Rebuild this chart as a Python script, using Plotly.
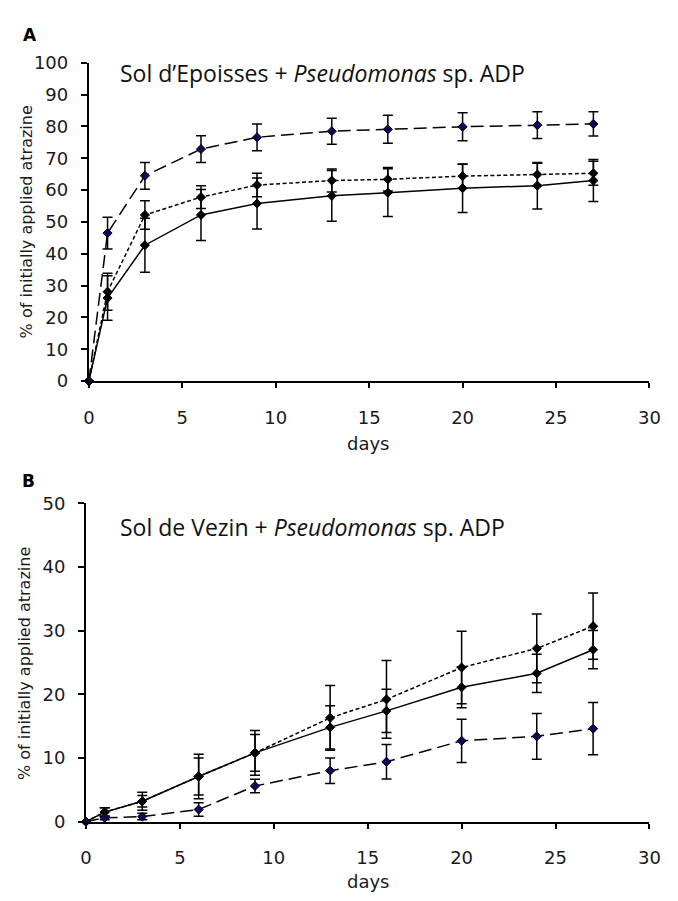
import plotly.graph_objects as go

days = [0, 1, 3, 6, 9, 13, 16, 20, 24, 27]

# Panel A: Sol d'Epoisses
a_dashed = [0, 46.5, 64.5, 72.9, 76.6, 78.5, 79.1, 79.9, 80.4, 80.8]
a_dashed_err = [0, 5.0, 4.2, 4.2, 4.2, 4.1, 4.4, 4.4, 4.2, 3.8]
a_dotted = [0, 28.1, 52.2, 57.8, 61.6, 63.0, 63.4, 64.4, 64.9, 65.3]
a_dotted_err = [0, 5.8, 4.5, 3.6, 3.7, 3.6, 3.7, 3.7, 3.5, 3.8]
a_solid = [0, 26.1, 42.7, 52.2, 55.8, 58.2, 59.2, 60.6, 61.4, 63.0]
a_solid_err = [0, 7.0, 8.5, 8.0, 8.0, 8.0, 7.5, 7.6, 7.3, 6.6]

# Panel B: Sol de Vezin
b_dashed = [0, 0.6, 0.8, 1.9, 5.6, 8.0, 9.4, 12.7, 13.4, 14.6]
b_dashed_err = [0, 0.3, 0.5, 1.05, 1.05, 2.0, 2.7, 3.4, 3.6, 4.1]
b_dotted = [0, 1.5, 3.2, 7.1, 10.8, 16.3, 19.2, 24.2, 27.2, 30.7]
b_dotted_err = [0, 0.7, 1.4, 2.9, 2.9, 5.1, 6.1, 5.7, 5.4, 5.2]
b_solid = [0, 1.5, 3.2, 7.1, 10.8, 14.8, 17.4, 21.1, 23.3, 27.0]
b_solid_err = [0, 0.7, 0.9, 3.5, 3.5, 3.4, 3.4, 3.2, 3.0, 3.0]

title_a = "Sol d\u2019Epoisses + <i>Pseudomonas</i> sp. ADP"
title_b = "Sol de Vezin + <i>Pseudomonas</i> sp. ADP"
y_title = "% of initially applied atrazine"
x_title = "days"

W, H = 678, 901

fig = go.Figure()

styles = [
    ("solid", "black"),
    ("4px,2.5px", "black"),
    ("13px,6px", "#0a0a5a"),
]


def add_series(x, y, err, dash, mcolor, xa, ya):
    fig.add_trace(go.Scatter(
        x=x, y=y, mode="lines+markers",
        line=dict(color="black", width=1.5, dash=dash),
        marker=dict(symbol="diamond", size=7, color=mcolor,
                    line=dict(color="black", width=1)),
        error_y=dict(type="data", array=err, visible=True,
                     color="black", thickness=1.5, width=5),
        cliponaxis=False, showlegend=False, xaxis=xa, yaxis=ya,
    ))


for (ys, es), (dash, mc) in zip(
        [(a_solid, a_solid_err), (a_dotted, a_dotted_err), (a_dashed, a_dashed_err)], styles):
    add_series(days, ys, es, dash, mc, "x", "y")

for (ys, es), (dash, mc) in zip(
        [(b_solid, b_solid_err), (b_dotted, b_dotted_err), (b_dashed, b_dashed_err)], styles):
    add_series(days, ys, es, dash, mc, "x2", "y2")

SANS = "DejaVu Sans, Liberation Sans, Arial, sans-serif"
tickfont = dict(family=SANS, size=18, color="#1a1a1a")
xcommon = dict(range=[0, 30], dtick=5, tick0=0, showgrid=False, zeroline=False,
               showline=True, linecolor="black", linewidth=2,
               ticks="outside", ticklen=5, tickwidth=1.5, tickcolor="black",
               tickfont=tickfont, ticklabelstandoff=14, fixedrange=True)
ycommon = dict(showgrid=False, zeroline=False,
               showline=True, linecolor="black", linewidth=2,
               ticks="outside", ticklen=6, tickwidth=1.5, tickcolor="black",
               tickfont=tickfont, ticklabelstandoff=9, fixedrange=True)

fig.update_layout(
    width=W, height=H,
    margin=dict(l=0, r=0, t=0, b=0),
    paper_bgcolor="white", plot_bgcolor="white",
    xaxis=dict(domain=[85 / W, 660 / W], anchor="y", **xcommon),
    yaxis=dict(domain=[1 - 379 / H, 1 - 53 / H], anchor="x", range=[0, 100], dtick=10, **ycommon),
    xaxis2=dict(domain=[82 / W, 660 / W], anchor="y2", **xcommon),
    yaxis2=dict(domain=[1 - 830 / H, 1 - 504 / H], anchor="x2", range=[0, 50], dtick=10, **ycommon),
)

labfont = dict(family=SANS, size=16, color="#1a1a1a")
daysfont = dict(family=SANS, size=18, color="#1a1a1a")
titlefont = dict(family="Open Sans, Noto Sans, sans-serif", size=23, color="#111111")
letterfont = dict(family=SANS, size=17, color="black")

ann = [
    dict(text="<b>A</b>", x=25 / W, y=1 - 25 / H, xanchor="center", yanchor="middle", font=letterfont),
    dict(text="<b>B</b>", x=23 / W, y=1 - 481 / H, xanchor="center", yanchor="middle", font=letterfont),
    dict(text=title_a, x=115 / W, y=1 - 63 / H, xanchor="left", yanchor="middle", font=titlefont),
    dict(text=title_b, x=115 / W, y=1 - 528 / H, xanchor="left", yanchor="middle", font=titlefont),
    dict(text=y_title, x=22 / W, y=1 - 216 / H, textangle=-90, xanchor="center", yanchor="middle",
         font=labfont),
    dict(text=y_title, x=19 / W, y=1 - 668 / H, textangle=-90, xanchor="center", yanchor="middle",
         font=labfont),
    dict(text=x_title, x=372 / W, y=1 - 443 / H, xanchor="center", yanchor="middle", font=daysfont),
    dict(text=x_title, x=372 / W, y=1 - 891 / H, xanchor="center", yanchor="middle", font=daysfont),
]
for a in ann:
    a.update(xref="paper", yref="paper", showarrow=False)
fig.update_layout(annotations=ann)

fig.write_html(
    "out.html",
    config={"displayModeBar": False},
    post_script="document.body.style.margin='0';document.body.style.overflow='hidden';",
)
